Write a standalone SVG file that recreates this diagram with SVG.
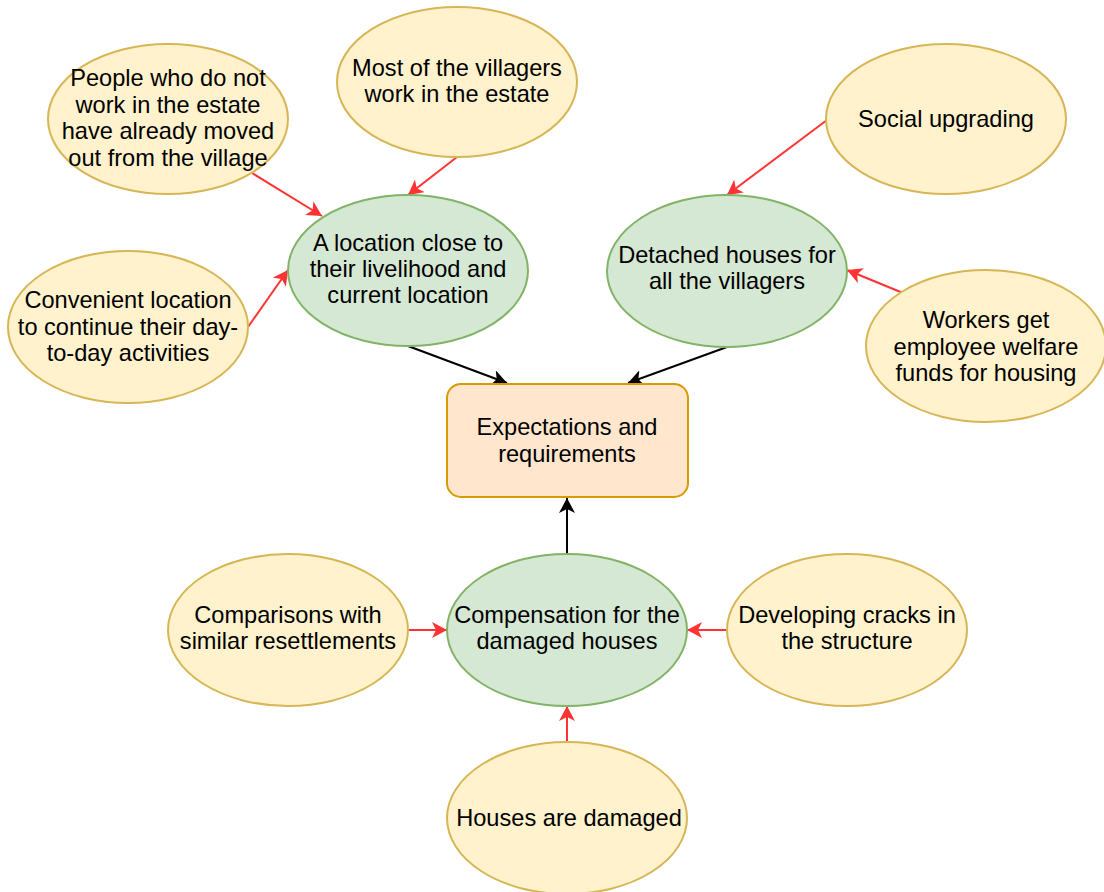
<svg xmlns="http://www.w3.org/2000/svg" width="1104" height="892" viewBox="0 0 1104 892">
<style>
.y{fill:#fff2cc;stroke:#d6b656;stroke-width:2}
.g{fill:#d5e8d4;stroke:#82b366;stroke-width:2}
.o{fill:#ffe6cc;stroke:#d79b00;stroke-width:2}
text{font-family:"Liberation Sans",Arial,sans-serif;font-size:23.6px;fill:#000;text-anchor:middle}
.r{stroke:#ff3333;stroke-width:2;fill:none;marker-end:url(#ar)}
.b{stroke:#000;stroke-width:2;fill:none;marker-end:url(#ab)}
</style>
<defs>
<marker id="ar" markerUnits="userSpaceOnUse" markerWidth="17" markerHeight="17" refX="15" refY="8" orient="auto"><path d="M0,0 L15,8 L0,16 L4,8 z" fill="#ff3333"/></marker>
<marker id="ab" markerUnits="userSpaceOnUse" markerWidth="17" markerHeight="17" refX="15" refY="8" orient="auto"><path d="M0,0 L15,8 L0,16 L4,8 z" fill="#000"/></marker>
</defs>
<rect width="1104" height="892" fill="#fff"/>
<g id="connectors">
<line class="r" x1="252" y1="173" x2="322" y2="216"/>
<line class="r" x1="457" y1="157" x2="408" y2="195"/>
<line class="r" x1="248" y1="327" x2="288" y2="270"/>
<line class="r" x1="827" y1="120" x2="727" y2="195"/>
<line class="r" x1="903" y1="293" x2="847" y2="270"/>
<line class="b" x1="408" y1="346" x2="507" y2="383"/>
<line class="b" x1="727" y1="347" x2="628" y2="383"/>
<line class="b" x1="567" y1="554" x2="567" y2="498"/>
<line class="r" x1="408" y1="630" x2="447" y2="630"/>
<line class="r" x1="727" y1="630" x2="687" y2="630"/>
<line class="r" x1="567" y1="742" x2="567" y2="706"/>
</g>
<g id="people">
<ellipse class="y" cx="168" cy="119" rx="120" ry="75"/>
<text x="168" y="86">People who do not</text>
<text x="168" y="112.5">work in the estate</text>
<text x="168" y="139">have already moved</text>
<text x="168" y="165.5">out from the village</text>
</g>
<g id="most">
<ellipse class="y" cx="457" cy="82" rx="120" ry="75"/>
<text x="457" y="76">Most of the villagers</text>
<text x="457" y="102">work in the estate</text>
</g>
<g id="social">
<ellipse class="y" cx="946" cy="119" rx="120" ry="75"/>
<text x="946" y="127">Social upgrading</text>
</g>
<g id="location">
<ellipse class="g" cx="408" cy="270.5" rx="120" ry="75.5"/>
<text x="408" y="251">A location close to</text>
<text x="408" y="277">their livelihood and</text>
<text x="408" y="303">current location</text>
</g>
<g id="detached">
<ellipse class="g" cx="727" cy="271" rx="120" ry="76"/>
<text x="727" y="263">Detached houses for</text>
<text x="727" y="289">all the villagers</text>
</g>
<g id="convenient">
<ellipse class="y" cx="128" cy="327" rx="120" ry="76"/>
<text x="128" y="308">Convenient location</text>
<text x="128" y="334.5">to continue their day-</text>
<text x="128" y="361">to-day activities</text>
</g>
<g id="workers">
<ellipse class="y" cx="986" cy="346" rx="120" ry="76"/>
<text x="986" y="328">Workers get</text>
<text x="986" y="354.5">employee welfare</text>
<text x="986" y="381">funds for housing</text>
</g>
<g id="expectations">
<rect class="o" x="447" y="384" width="241" height="113" rx="14"/>
<text x="567" y="435">Expectations and</text>
<text x="567" y="461.5">requirements</text>
</g>
<g id="compensation">
<ellipse class="g" cx="567" cy="630" rx="120" ry="76"/>
<text x="567" y="623">Compensation for the</text>
<text x="567" y="649">damaged houses</text>
</g>
<g id="comparisons">
<ellipse class="y" cx="288" cy="630" rx="120" ry="76"/>
<text x="288" y="623">Comparisons with</text>
<text x="288" y="649">similar resettlements</text>
</g>
<g id="cracks">
<ellipse class="y" cx="847" cy="630" rx="120" ry="76"/>
<text x="847" y="623">Developing cracks in</text>
<text x="847" y="649">the structure</text>
</g>
<g id="houses">
<ellipse class="y" cx="567" cy="818" rx="120" ry="76"/>
<text x="569" y="826">Houses are damaged</text>
</g>
</svg>
